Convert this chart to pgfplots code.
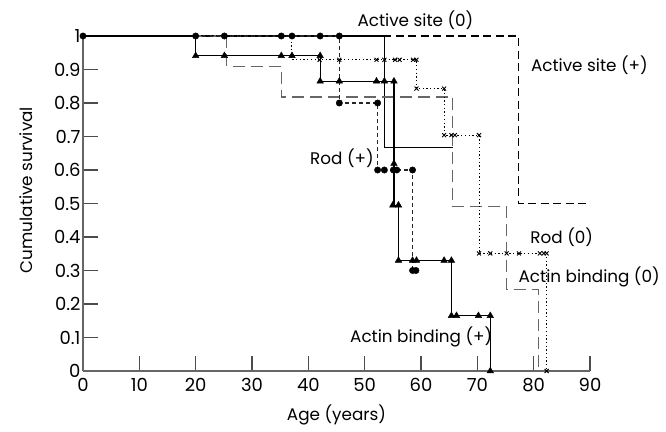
\documentclass[border=0pt]{standalone}
\usepackage{fontspec}
\setmainfont{Poppins}
\usepackage{pgfplots}
\usepackage{pgfplotstable}
\pgfplotsset{compat=1.18}

% Active site (0): steps
\pgfplotstableread{
x y
0 1
53.5 0.667
65.6 0.667
}\activeZero
% Active site (+): steps
\pgfplotstableread{
x y
0 1
77.3 0.5
90 0.5
}\activePlus
% Rod (+): steps and censored cases
\pgfplotstableread{
x y
0 1
45.5 0.8
52.3 0.6
58.5 0.3
59.1 0.3
}\rodPlus
\pgfplotstableread{
x y
0 1
20 1
25.1 1
35.2 1
37.1 1
42.1 1
45.5 1
45.5 0.8
52.3 0.8
52.3 0.6
53.5 0.6
55.1 0.6
55.7 0.6
58.5 0.6
58.5 0.3
59.1 0.3
}\rodPlusCens
% Rod (0)
\pgfplotstableread{
x y
0 1
37.1 0.929
59.2 0.843
64.1 0.704
70.3 0.351
82.3 0
82.3 0
}\rodZero
\pgfplotstableread{
x y
42.0 0.929
45.5 0.929
52.1 0.929
53.5 0.929
55.4 0.929
56.2 0.929
58.6 0.929
59.2 0.929
59.2 0.843
64.1 0.843
64.1 0.704
65.4 0.704
66.0 0.704
70.3 0.704
70.3 0.351
72.3 0.351
75.2 0.351
77.4 0.351
81.1 0.351
81.8 0.351
82.3 0.351
82.3 0
}\rodZeroCens
% Actin binding (+)
\pgfplotstableread{
x y
0 1
20 0.941
42.1 0.865
55.2 0.495
56.0 0.33
65.4 0.165
72.3 0
}\actinPlus
\pgfplotstableread{
x y
20 0.941
25.1 0.941
35.2 0.941
37.1 0.941
42.1 0.941
42.1 0.865
45.5 0.865
52.1 0.865
53.5 0.865
55.2 0.865
55.2 0.619
55.0 0.495
56.0 0.495
56.0 0.33
58.5 0.33
59.2 0.33
64.1 0.33
65.4 0.33
65.4 0.165
66.3 0.165
70.2 0.165
72.3 0.165
72.3 0
}\actinPlusCens
% Actin binding (0)
\pgfplotstableread{
x y
0 1
25.5 0.909
35.2 0.818
65.6 0.49
75.2 0.244
80.8 0
80.8 0
}\actinZero

\begin{document}
\begin{tikzpicture}[font=\fontsize{16.8bp}{20bp}\selectfont]
\path[use as bounding box] (-83bp,-61bp) rectangle (583bp,371bp);
\begin{axis}[
  scale only axis, width=507bp, height=335bp,
  xmin=0, xmax=90, ymin=0, ymax=1,
  axis x line=bottom, axis y line=left,
  axis line style={-, draw=black!60, line width=1.1bp},
  tick align=inside, major tick length=15bp,
  tick style={draw=black!70, line width=1.1bp},
  xtick={0,10,20,30,40,50,60,70,80,90},
  ytick={0,0.1,0.2,0.3,0.4,0.5,0.6,0.7,0.8,0.9,1},
  tick label style={font=\fontsize{18bp}{21bp}\selectfont},
  /pgf/number format/assume math mode=true,
  /pgf/number format/fixed,
  xticklabel style={yshift=-4bp},
  yticklabel style={xshift=1bp},
  clip=false,
  xlabel={Age (years)},
  ylabel={Cumulative survival},
  xlabel style={at={(axis description cs:0.5,-0.1463)}, anchor=base},
  ylabel style={at={(axis description cs:-0.0992,0.54)}, anchor=base},
]
\addplot[const plot, black, line width=1.4bp] table {\activeZero};
\addplot[const plot, black, line width=1.8bp, dash pattern=on 8bp off 4.5bp] table {\activePlus};
\addplot[const plot, line width=1.3bp, dash pattern=on 12bp off 6bp, draw=black!60] table {\actinZero};
\addplot[const plot, black!85, line width=1.2bp, dash pattern=on 4bp off 3bp] table {\rodPlus};
\addplot[only marks, mark=*, mark size=3.2bp, black] table {\rodPlusCens};
\addplot[const plot, black, line width=1bp, dash pattern=on 1.3bp off 2.4bp] table {\rodZero};
\addplot[only marks, mark=x, mark size=2.8bp, black, mark options={line width=0.9bp}] table {\rodZeroCens};
\addplot[const plot, black, line width=1.2bp] table {\actinPlus};
\addplot[only marks, mark=triangle*, mark size=3.8bp, black] table {\actinPlusCens};

\node[anchor=base west, inner sep=0pt] at (axis cs:48.7,1.028) {Active site (0)};
\node[anchor=base west, inner sep=0pt] at (axis cs:79.5,0.893) {Active site (+)};
\node[anchor=base west, inner sep=0pt] at (axis cs:40.3,0.616) {Rod (+)};
\node[anchor=base west, inner sep=0pt] at (axis cs:79.4,0.382) {Rod (0)};
\node[anchor=base west, inner sep=0pt] at (axis cs:77.3,0.265) {Actin binding (0)};
\node[anchor=base west, inner sep=0pt] at (axis cs:47.4,0.086) {Actin binding (+)};
\end{axis}
\end{tikzpicture}
\end{document}
